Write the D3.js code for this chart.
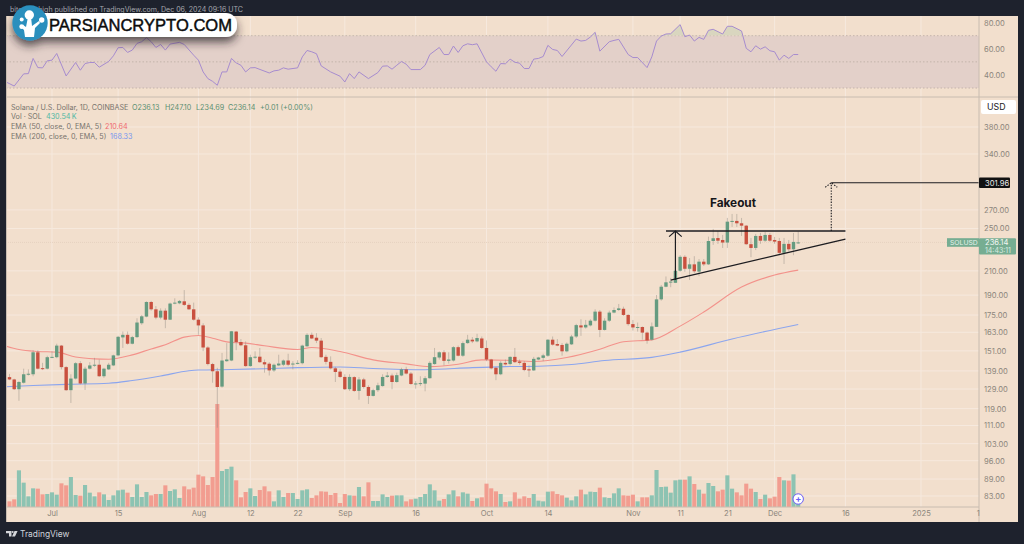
<!DOCTYPE html>
<html>
<head>
<meta charset="utf-8">
<script src="https://cdn.jsdelivr.net/npm/d3@7/dist/d3.min.js"></script>
<style>
  html, body { margin: 0; padding: 0; background: #1e222d; }
  svg { display: block; font-family: Inter, "Liberation Sans", sans-serif; }
</style>
</head>
<body>
<div id="chart"></div>
<script>
// daily candles, Jun 22 to Dec 6 2024
var firstDay = new Date(Date.UTC(2024, 5, 22));

var opens = [
  135.5,134.2,128.9,132.4,137.1,137.1,150.1,140.6,140.3,146.9,
  147.1,154.3,141.2,128.4,134.7,143.5,132.0,140.3,142.0,142.6,
  136.0,139.9,142.2,148.2,159.6,161.3,155.5,159.8,169.2,173.9,
  184.7,179.2,173.2,178.2,171.7,183.5,183.7,185.2,182.5,179.2,
  171.7,167.7,153.1,143.0,138.8,130.3,144.7,145.1,163.5,156.6,
  154.5,141.8,146.9,147.4,144.1,143.2,139.3,142.2,142.6,145.1,
  142.8,143.2,143.5,153.9,161.3,159.4,157.5,147.3,144.3,140.5,
  138.6,135.6,128.9,135.5,128.0,134.2,130.1,125.4,128.4,130.6,
  135.6,136.4,132.8,136.4,139.9,137.5,131.7,131.7,131.9,134.9,
  143.0,146.9,150.1,144.9,145.1,153.3,148.0,155.9,158.1,157.0,
  158.9,152.8,145.7,140.8,137.1,143.7,143.0,147.3,144.5,143.7,
  139.9,139.3,145.7,146.7,148.0,158.1,155.3,154.7,150.7,155.1,
  160.2,167.7,166.3,167.7,171.0,177.5,164.6,171.0,176.8,178.7,
  179.6,175.1,168.6,166.1,166.6,162.8,158.1,166.7,186.7,196.7,
  200.3,199.9,210.1,222.5,211.8,215.7,209.3,218.1,215.7,237.5,
  240.4,238.5,236.0,257.2,258.0,255.5,253.0,234.4,230.8,242.5,
  237.8,243.5,238.5,237.5,226.2,234.7,229.5,236.13
];
var highs = [
  137.3,134.6,133.3,140.3,139.9,151.4,151.4,143.7,148.0,150.7,
  155.5,154.7,141.8,137.1,144.1,144.7,141.4,144.1,146.7,145.7,
  140.8,143.7,148.6,160.6,163.5,163.5,160.6,172.7,175.1,185.2,
  185.5,181.6,179.9,179.9,184.2,187.5,186.2,194.0,183.7,184.2,
  173.4,169.2,153.9,143.7,140.8,149.7,155.9,163.9,163.9,158.5,
  157.0,148.6,150.7,152.8,145.7,144.1,143.3,148.6,145.7,149.2,
  144.7,145.3,154.9,162.4,162.8,162.4,159.2,148.6,147.6,141.4,
  139.9,137.1,137.1,136.0,135.5,135.1,131.0,129.2,132.4,137.1,
  138.4,137.5,138.0,140.8,141.4,138.4,133.3,136.0,136.0,144.7,
  152.8,150.7,151.4,150.1,153.9,154.3,157.0,161.3,159.8,162.0,
  160.2,157.6,146.1,141.4,144.7,145.7,147.6,152.8,145.7,144.7,
  142.2,147.3,147.3,149.2,158.5,160.2,158.5,155.9,156.3,161.3,
  168.8,172.0,171.5,172.0,179.2,178.7,172.7,178.2,180.6,183.2,
  181.2,175.6,171.5,169.7,167.0,163.5,169.7,190.1,198.1,205.2,
  204.0,213.5,224.0,224.0,221.4,223.1,220.5,220.5,241.8,249.6,
  247.5,243.5,261.2,265.5,265.5,261.2,253.7,240.5,244.5,245.5,
  246.5,245.5,241.5,240.5,240.5,238.5,245.5,247.10
];
var lows = [
  133.8,128.5,122.9,132.0,136.4,136.0,139.9,139.5,139.9,146.5,
  146.5,139.9,128.0,121.8,134.2,131.5,128.5,139.9,141.4,135.6,
  135.1,139.5,141.8,147.6,152.8,154.9,155.1,159.2,168.1,173.4,
  178.2,172.0,172.0,165.8,171.5,183.0,183.0,181.7,178.7,171.0,
  161.3,150.8,142.2,132.4,110.0,129.7,144.3,144.7,151.4,153.9,
  141.4,141.4,146.1,143.7,138.0,136.4,138.4,141.8,141.8,141.8,
  139.9,142.8,142.8,153.5,158.5,155.9,146.7,142.8,139.9,132.8,
  135.1,128.5,128.0,127.5,123.4,129.2,121.3,125.1,127.5,130.3,
  135.1,128.9,132.4,136.0,137.0,131.3,129.2,130.6,127.8,134.6,
  142.6,145.7,142.2,143.3,144.5,147.6,147.3,155.5,155.9,156.4,
  152.2,144.7,139.9,133.8,136.6,142.2,142.2,143.7,142.6,138.8,
  135.6,139.0,145.3,144.7,147.3,154.3,153.9,148.0,150.1,154.7,
  159.2,160.6,165.5,167.0,170.4,159.8,164.2,170.1,176.3,178.0,
  174.4,167.5,164.2,163.5,158.1,155.5,157.5,166.6,185.7,196.3,
  196.3,199.7,209.2,209.2,202.2,208.1,205.5,214.2,215.1,233.7,
  234.7,230.8,230.8,251.7,251.7,242.5,233.7,222.2,228.8,234.7,
  236.6,236.6,234.7,224.0,216.0,227.9,224.0,234.69
];
var closes = [
  134.2,128.9,132.8,137.1,137.4,150.1,140.3,140.3,147.1,147.3,
  154.3,141.2,128.4,134.7,143.5,132.0,140.3,142.2,142.6,136.0,
  140.3,142.6,148.2,160.0,161.3,155.5,159.8,169.7,174.1,184.7,
  179.2,173.2,178.2,171.7,183.5,184.2,185.5,182.5,179.2,171.7,
  167.7,153.1,143.0,138.8,130.1,145.1,145.7,163.7,156.6,154.5,
  141.8,147.1,147.4,144.1,142.8,139.3,142.6,143.3,145.1,142.6,
  143.3,143.7,154.3,161.3,158.9,157.5,147.1,144.3,140.5,138.4,
  135.6,128.9,135.6,128.0,134.2,130.1,125.4,128.4,131.0,135.6,
  136.4,132.8,136.6,139.9,137.5,131.7,132.0,132.2,134.9,143.7,
  147.1,150.1,144.9,145.7,153.3,148.0,155.9,158.1,157.0,159.2,
  152.8,145.7,140.5,137.1,143.7,142.8,147.3,144.1,143.7,139.5,
  139.3,146.1,146.9,148.2,158.1,154.9,154.3,150.7,155.5,160.2,
  167.9,166.3,168.1,171.0,177.5,164.6,171.0,176.8,178.7,179.9,
  175.1,168.6,166.3,166.6,162.8,157.6,167.0,186.7,196.7,200.3,
  200.9,210.1,222.5,211.8,215.7,209.6,218.1,215.7,237.5,240.2,
  237.8,236.0,257.2,258.0,255.5,253.0,234.4,230.8,242.5,237.8,
  243.5,237.8,236.9,226.2,234.7,229.5,236.6,236.14
];
// volume in thousands
var volumes = [
  340,460,2200,1460,640,1120,1100,760,780,880,
  740,1420,1300,1800,720,680,1320,860,640,880,
  760,420,700,1000,1040,860,600,1360,600,900,
  700,780,780,1300,960,1060,540,1240,1060,1160,
  1940,1840,1320,1800,6180,2160,2280,2420,1600,580,
  900,1120,660,1020,1240,940,340,1000,600,840,
  840,480,1000,1060,540,700,940,920,720,840,
  240,780,700,680,1200,640,1480,360,360,760,
  600,680,700,700,340,460,500,600,780,1360,
  1000,380,480,760,1000,640,880,800,360,520,
  580,1400,1120,940,780,300,340,880,500,640,
  540,780,380,340,920,940,780,700,560,400,
  640,1040,760,920,900,1160,580,540,820,1120,
  700,680,740,340,580,580,700,2220,1200,1220,
  860,1600,1640,1640,1840,1380,1040,800,1440,1260,
  940,1040,1900,1100,880,700,1400,1100,900,480,
  740,520,620,1800,1600,1580,1960,430.54
];

// moving averages, read at days counted from firstDay
var ema50Days = [-1,2,6,10,14,18,21,26,30,33,37,40,43,46,50,54,61,64,70,77,84,89,95,100,105,111,118,125,130,136,142,147,155,162,167];
var ema50 = [154.2,151.8,150.6,150.2,147.2,146.1,145.9,148.5,152.2,154.8,159.8,160.9,159.1,156.7,155.9,154.2,151.8,153.1,150.6,145.5,143.1,141.5,142.9,145.5,145.3,144.5,146.9,152.0,156.8,158.0,167.2,177.2,196.4,206.4,210.64];
var ema200Days = [-1,5,12,21,26,32,38,40,47,54,61,70,77,88,98,105,112,119,126,136,142,153,167];
var ema200 = [130.2,130.9,131.5,132.1,133.6,136.1,139.1,139.5,139.8,140.3,140.9,141.3,140.4,139.7,140.9,141.5,141.7,142.7,145.1,147.0,150.2,158.6,168.33];

var rsiDays = [-1,1,3,4,5,6,7,8,9,10,12,14,15,16,17,18,19,21,22,23,24,25,26,27,28,29,30,31,32,33,34,36,37,39,40,41,42,43,44,45,46,47,48,49,50,51,52,55,56,57,58,59,61,62,63,64,65,66,68,70,71,72,73,74,76,78,79,80,81,82,83,84,85,87,88,89,91,92,93,94,95,96,97,98,99,101,102,103,104,105,106,107,108,109,110,111,112,113,114,115,116,117,120,121,122,123,124,125,127,128,129,131,132,133,135,136,137,138,139,140,142,143,144,145,146,147,148,149,151,152,153,155,156,157,158,159,160,161,162,163,164,165,166,167];
var rsiValues = [35.1,31.5,40.8,41.0,52.6,45.6,45.4,50.8,51.3,56.4,39.2,49.5,43.6,48.7,49.5,49.5,45.9,50.3,54.6,60.8,61.0,57.2,59.0,64.1,65.4,68.5,65.4,61.0,63.3,59.0,63.6,64.9,63.3,55.1,51.3,42.3,37.2,35.1,32.1,42.3,42.3,52.6,49.2,47.4,42.3,45.4,45.6,41.5,43.1,43.6,45.4,44.4,45.4,53.8,58.7,57.7,56.2,46.9,42.3,39.0,34.6,41.0,37.2,42.3,37.2,41.8,46.7,46.9,44.4,47.4,50.3,48.2,44.1,44.1,47.4,55.6,61.0,55.6,55.6,62.1,57.2,62.3,63.8,63.1,63.8,50.0,46.2,42.8,48.7,48.5,52.1,49.7,49.0,44.9,44.9,52.1,52.6,54.1,62.6,59.5,58.7,54.1,67.4,65.9,66.4,69.0,72.6,58.2,65.4,66.4,67.2,55.6,53.3,53.3,45.6,53.8,65.9,69.7,71.3,71.5,78.5,69.2,70.5,65.9,68.7,67.2,74.1,74.9,71.3,77.2,77.2,73.6,60.3,57.7,62.3,59.7,61.5,58.5,57.7,51.3,55.1,52.6,55.6,55.6];

var priceTicks = [83,89,96,103,111,119,129,139,151,163,175,190,210,250,270,340,380];
var rsiTicks = [40,60,80];
var rsiLevels = [70,50,30];
var timeTicks = ['2024-07-01','2024-07-15','2024-08-01','2024-08-12','2024-08-22','2024-09-01','2024-09-16','2024-10-01','2024-10-14','2024-11-01','2024-11-11','2024-11-21','2024-12-01','2024-12-16','2025-01-01','2025-01-13'];
var timeLabels = ['Jul','15','Aug','12','22','Sep','16','Oct','14','Nov','11','21','Dec','16','2025','1'];

// drawn trend lines: days from firstDay and prices
var resistanceDays = [139, 177];
var resistancePrices = [247.5, 247.5];
var supportDays = [140, 177];
var supportPrices = [202.2, 239.4];
var moveDay = 141;
var targetDay = 174;
var targetPrice = 301.96;
var lastClose = 236.14;

var width = 1024;
var height = 544;
var panel = { left: 6, right: 1018, top: 16, bottom: 522, axis: 979, split: 97, timeLine: 507 };

var bgColor = '#f2dfcd';
var upColor = '#659b80';
var downColor = '#c9503f';
var upVol = '#8dc3b2';
var downVol = '#f29d90';
var textColor = '#8c867c';

var dayOf = function (d) { return d3.utcDay.offset(firstDay, d); };
var days = opens.map(function (d, i) { return dayOf(i); });

var x = d3.scaleUtc()
  .domain([new Date(Date.UTC(2024, 6, 1)), new Date(Date.UTC(2025, 0, 1))])
  .range([52, 921]);
var y = d3.scaleLog().domain([83, 380]).range([496, 127]);
var yVol = d3.scaleLinear().domain([0, 6180]).range([panel.timeLine, 404]);
var yRsi = d3.scaleLinear().domain([30, 70]).range([88, 35.7]);

var svg = d3.select('#chart').append('svg')
  .attr('width', width)
  .attr('height', height);

var defs = svg.append('defs');
defs.append('clipPath').attr('id', 'plot').append('rect')
  .attr('x', panel.left).attr('y', panel.top)
  .attr('width', panel.axis - panel.left).attr('height', panel.timeLine - panel.top);
defs.append('clipPath').attr('id', 'over').append('rect')
  .attr('x', panel.left).attr('y', panel.top)
  .attr('width', panel.axis - panel.left).attr('height', yRsi(70) - panel.top);
var shadow = defs.append('filter').attr('id', 'shadow')
  .attr('x', '-20%').attr('y', '-60%').attr('width', '140%').attr('height', '260%');
shadow.append('feDropShadow')
  .attr('dx', 0).attr('dy', 5).attr('stdDeviation', 5)
  .attr('flood-color', '#2a2426').attr('flood-opacity', 0.75);

svg.append('rect').attr('width', width).attr('height', height).attr('fill', '#1e222d');
svg.append('rect')
  .attr('x', panel.left).attr('y', panel.top)
  .attr('width', panel.right - panel.left).attr('height', panel.bottom - panel.top)
  .attr('fill', bgColor);

drawGrid();
drawRsi();
drawVolume();
drawEma(ema50Days, ema50, '#f3928b');
drawEma(ema200Days, ema200, '#8ba5ee');
drawCandles();
drawTrendLines();
drawFrame();
drawAxes();
drawLabels();
drawLogo();
drawFooter();

function drawGrid() {

  var grid = svg.append('g').attr('stroke', '#f6e9de').attr('stroke-width', 1);

  grid.selectAll('.v')
      .data(timeTicks.slice(0, 15))
      .enter()
    .append('line')
      .attr('x1', function (d) { return x(new Date(d)); })
      .attr('x2', function (d) { return x(new Date(d)); })
      .attr('y1', panel.top)
      .attr('y2', panel.timeLine);

  grid.selectAll('.h')
      .data(priceTicks)
      .enter()
    .append('line')
      .attr('x1', panel.left)
      .attr('x2', panel.axis)
      .attr('y1', function (d) { return y(d); })
      .attr('y2', function (d) { return y(d); });

  svg.append('line')
    .attr('x1', panel.left)
    .attr('x2', panel.axis)
    .attr('y1', y(lastClose))
    .attr('y2', y(lastClose))
    .attr('stroke', '#e6d2c0')
    .attr('stroke-dasharray', '1,1');
}

function drawRsi() {

  svg.append('rect')
    .attr('x', panel.left)
    .attr('y', yRsi(70))
    .attr('width', panel.axis - panel.left)
    .attr('height', yRsi(30) - yRsi(70))
    .attr('fill', '#e3d0c9');

  svg.selectAll('.level')
      .data(rsiLevels)
      .enter()
    .append('line')
      .attr('x1', panel.left)
      .attr('x2', panel.axis)
      .attr('y1', function (d) { return yRsi(d); })
      .attr('y2', function (d) { return yRsi(d); })
      .attr('stroke', '#c4b4ac')
      .attr('stroke-dasharray', '1.5,2');

  var rsiX = function (d) { return x(dayOf(d)); };

  var overbought = d3.area()
    .x(function (d, i) { return rsiX(rsiDays[i]); })
    .y0(yRsi(70))
    .y1(function (d) { return yRsi(d); });

  svg.append('path')
    .attr('clip-path', 'url(#over)')
    .attr('fill', '#d9d6bf')
    .attr('d', overbought(rsiValues));

  var line = d3.line()
    .x(function (d, i) { return rsiX(rsiDays[i]); })
    .y(function (d) { return yRsi(d); });

  svg.append('path')
    .attr('clip-path', 'url(#plot)')
    .attr('fill', 'none')
    .attr('stroke', '#a78ccf')
    .attr('stroke-width', 1)
    .attr('d', line(rsiValues));
}

function drawVolume() {

  svg.append('g').selectAll('rect')
      .data(volumes)
      .enter()
    .append('rect')
      .attr('x', function (d, i) { return x(days[i]) - 2.05; })
      .attr('width', 4.1)
      .attr('y', function (d) { return yVol(d); })
      .attr('height', function (d) { return yVol(0) - yVol(d); })
      .attr('fill', function (d, i) { return closes[i] >= opens[i] ? upVol : downVol; });
}

function drawEma(emaDays, values, color) {

  var line = d3.line()
    .x(function (d, i) { return x(dayOf(emaDays[i])); })
    .y(function (d) { return y(d); })
    .curve(d3.curveMonotoneX);

  svg.append('path')
    .attr('clip-path', 'url(#plot)')
    .attr('fill', 'none')
    .attr('stroke', color)
    .attr('stroke-width', 1.1)
    .attr('d', line(values));
}

function drawCandles() {

  var candles = svg.append('g').selectAll('g')
      .data(days)
      .enter()
    .append('g');

  candles.append('line')
    .attr('x1', function (d) { return x(d); })
    .attr('x2', function (d) { return x(d); })
    .attr('y1', function (d, i) { return y(highs[i]); })
    .attr('y2', function (d, i) { return y(lows[i]); })
    .attr('stroke', '#8f8a80')
    .attr('stroke-opacity', 0.45)
    .attr('stroke-width', 1);

  candles.append('rect')
    .attr('x', function (d) { return x(d) - 1.7; })
    .attr('width', 3.4)
    .attr('y', function (d, i) { return y(Math.max(opens[i], closes[i])); })
    .attr('height', function (d, i) {
      return Math.max(1, Math.abs(y(opens[i]) - y(closes[i])));
    })
    .attr('fill', function (d, i) { return closes[i] >= opens[i] ? upColor : downColor; });
}

function drawTrendLines() {

  var ink = '#1c1c20';

  var trend = function (lineDays, prices) {
    var line = d3.line()
      .x(function (d, i) { return x(dayOf(lineDays[i])); })
      .y(function (d) { return y(d); });
    svg.append('path')
      .attr('fill', 'none')
      .attr('stroke', ink)
      .attr('stroke-width', 1.3)
      .attr('d', line(prices));
  };
  trend(resistanceDays, resistancePrices);
  trend(supportDays, supportPrices);

  // measured move arrow
  var mx = x(dayOf(moveDay));
  var my = y(resistancePrices[0]);
  svg.append('line')
    .attr('x1', mx).attr('x2', mx)
    .attr('y1', y(supportPrices[0])).attr('y2', my)
    .attr('stroke', ink).attr('stroke-width', 1.2);
  svg.append('path')
    .attr('fill', 'none').attr('stroke', ink).attr('stroke-width', 1.2)
    .attr('d', d3.line()([[mx - 6.3, my + 5.6], [mx, my], [mx + 6.3, my + 5.6]]));

  // projected target, dotted arrow
  var tx = x(dayOf(targetDay));
  var ty = y(targetPrice);
  svg.append('line')
    .attr('x1', tx).attr('x2', tx)
    .attr('y1', my).attr('y2', ty)
    .attr('stroke', ink).attr('stroke-width', 1.1)
    .attr('stroke-dasharray', '1.4,1.4');
  svg.append('path')
    .attr('fill', 'none').attr('stroke', ink).attr('stroke-width', 1.1)
    .attr('stroke-dasharray', '1.4,1.4')
    .attr('d', d3.line()([[tx - 6, ty + 4.5], [tx, ty], [tx + 6, ty + 4.5]]));
  svg.append('line')
    .attr('x1', tx).attr('x2', panel.axis)
    .attr('y1', ty).attr('y2', ty)
    .attr('stroke', ink).attr('stroke-width', 1.1);

  svg.append('text')
    .attr('x', 733)
    .attr('y', 207)
    .attr('text-anchor', 'middle')
    .attr('font-size', 11.8)
    .attr('font-weight', 700)
    .attr('fill', '#16161a')
    .text('Fakeout');

  svg.append('circle')
    .attr('cx', x(days[days.length - 1]))
    .attr('cy', 499)
    .attr('r', 5.2)
    .attr('fill', '#fff')
    .attr('stroke', '#6a5cf5')
    .attr('stroke-width', 1);
  svg.append('text')
    .attr('x', x(days[days.length - 1]))
    .attr('y', 502)
    .attr('text-anchor', 'middle')
    .attr('font-size', 9)
    .attr('font-weight', 700)
    .attr('fill', '#6a5cf5')
    .text('+');
}

function drawFrame() {

  var frame = svg.append('g').attr('stroke', '#c8bcb0').attr('stroke-width', 1);
  frame.append('line')
    .attr('x1', panel.left).attr('x2', panel.right)
    .attr('y1', panel.split).attr('y2', panel.split);
  frame.append('line')
    .attr('x1', panel.left).attr('x2', panel.axis)
    .attr('y1', panel.timeLine).attr('y2', panel.timeLine);
  frame.append('line')
    .attr('x1', panel.axis).attr('x2', panel.axis)
    .attr('y1', panel.top).attr('y2', panel.bottom);
  frame.append('line')
    .attr('x1', panel.left + 0.5).attr('x2', panel.left + 0.5)
    .attr('y1', panel.top).attr('y2', panel.bottom);
}

function drawAxes() {

  var clean = function (g) {
    g.select('.domain').remove();
    g.selectAll('.tick line').remove();
    g.selectAll('text')
      .attr('fill', textColor)
      .attr('font-size', 7.6)
      .attr('font-family', 'Inter, "Liberation Sans", sans-serif');
  };

  svg.append('g')
    .attr('transform', 'translate(' + (panel.axis + 5) + ',0)')
    .call(d3.axisRight(y).tickValues(priceTicks).tickFormat(d3.format('.2f')).tickSize(0).tickPadding(0))
    .call(clean);

  svg.append('g')
    .attr('transform', 'translate(' + (panel.axis + 5) + ',0)')
    .call(d3.axisRight(yRsi).tickValues(rsiTicks).tickFormat(d3.format('.2f')).tickSize(0).tickPadding(0))
    .call(clean);

  svg.append('g')
    .attr('transform', 'translate(0,' + (panel.timeLine + 4) + ')')
    .call(d3.axisBottom(x)
      .tickValues(timeTicks.map(function (d) { return new Date(d); }))
      .tickFormat(function (d, i) { return timeLabels[i]; })
      .tickSize(0)
      .tickPadding(0))
    .call(clean);
}

function addText(tx, ty, str, color, size) {

  return svg.append('text')
    .attr('x', tx)
    .attr('y', ty)
    .attr('font-size', size || 7.2)
    .attr('fill', color)
    .text(str);
}

function drawLabels() {

  var grey = '#77736c';
  var green = '#5a8f72';

  addText(243, 12, 'bitcoinwhigh published on TradingView.com, Dec 06, 2024 09:16 UTC', '#a7a9b0', 7.05)
    .attr('text-anchor', 'end');

  addText(11, 109.5, 'Solana / U.S. Dollar, 1D, COINBASE', grey);
  addText(132, 109.5, 'O236.13', green);
  addText(165, 109.5, 'H247.10', green);
  addText(196, 109.5, 'L234.69', green);
  addText(228, 109.5, 'C236.14', green);
  addText(260, 109.5, '+0.01 (+0.00%)', green);

  addText(11, 119, 'Vol \u00b7 SOL', grey);
  addText(46, 119, '430.54\u2009K', '#4fb8a4');
  addText(11, 129, 'EMA (50, close, 0, EMA, 5)', grey);
  addText(105, 129, '210.64', '#ef6a70');
  addText(11, 139, 'EMA (200, close, 0, EMA, 5)', grey);
  addText(110, 139, '168.33', '#7896ee');

  // USD button
  svg.append('rect')
    .attr('x', 981).attr('y', 100).attr('width', 35).attr('height', 14).attr('rx', 2)
    .attr('fill', '#fff');
  addText(987, 110, 'USD', '#222', 8.8);

  // target tag
  svg.append('rect')
    .attr('x', panel.axis).attr('y', y(targetPrice) - 5.3)
    .attr('width', 31).attr('height', 10.6).attr('rx', 1)
    .attr('fill', '#111');
  addText(panel.axis + 6, y(targetPrice) + 2.8, '301.96', '#e8e8e8', 7.6);

  // last price tags
  var py = y(lastClose);
  svg.append('rect')
    .attr('x', 947).attr('y', py - 4.2).attr('width', 32).attr('height', 8.6)
    .attr('fill', '#76ad92');
  svg.append('rect')
    .attr('x', panel.axis).attr('y', py - 4.2).attr('width', 37).attr('height', 16.4).attr('rx', 1)
    .attr('fill', '#76ad92');
  addText(950, py + 2.6, 'SOLUSD', '#e7f1ea', 6.8);
  addText(panel.axis + 6, py + 2.6, '236.14', '#f3f7f3', 7.6);
  addText(panel.axis + 6, py + 10.5, '14:43:11', '#d9ebe0', 7);
}

function drawLogo() {

  var logo = svg.append('g').attr('filter', 'url(#shadow)');
  logo.append('rect')
    .attr('x', 30).attr('y', 13).attr('width', 207).attr('height', 24).attr('rx', 11)
    .attr('fill', '#fff');
  logo.append('circle')
    .attr('cx', 30).attr('cy', 23).attr('r', 17.7)
    .attr('fill', '#2b8fbd');

  // small tree mark
  var tree = svg.append('g').attr('fill', '#fff').attr('stroke', 'none');
  tree.append('path')
    .attr('d', 'M25 37 L24 30 C22 28 21 27 21 26 L23 25 L26 27 L28 17 L31 17 L32 26 L39 21 L40 23 L35 28 L34 37 Z');
  [[29.3, 15, 4.7], [41.7, 20, 2.7], [21.7, 19.5, 2], [21.7, 26.7, 2.4]].forEach(function (c) {
    tree.append('circle').attr('cx', c[0]).attr('cy', c[1]).attr('r', c[2]);
  });

  svg.append('text')
    .attr('x', 49)
    .attr('y', 31)
    .attr('font-family', '"Liberation Sans", sans-serif')
    .attr('font-size', 16.6)
    .attr('textLength', 183)
    .attr('lengthAdjust', 'spacingAndGlyphs')
    .attr('stroke', '#0b0b0b')
    .attr('stroke-width', 0.45)
    .attr('fill', '#0b0b0b')
    .text('PARSIANCRYPTO.COM');
}

function drawFooter() {

  svg.append('path')
    .attr('fill', '#d5d6da')
    .attr('d', 'M6 531 H11.5 V536.5 H9 V533.2 H6 Z M14.5 531 H17.6 L15 536.5 H12 Z');
  svg.append('circle').attr('cx', 12.7).attr('cy', 532).attr('r', 1).attr('fill', '#d5d6da');

  addText(20, 537, 'TradingView', '#d1d4dc', 8.4);
}
</script>
</body>
</html>
